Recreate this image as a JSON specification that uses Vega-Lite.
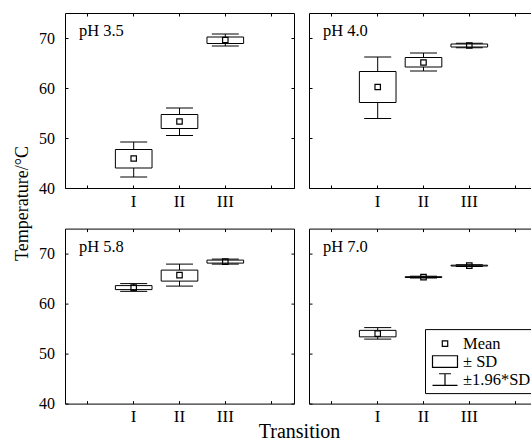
{
  "$schema": "https://vega.github.io/schema/vega-lite/v6.json",
  "padding": {"left": 12, "top": 12, "right": 0, "bottom": 0},
  "background": "white",
  "data": {"values": [
    {"panel": "pH 3.5", "transition": "I", "mean": 45.9, "sdlo": 44.0, "sdhi": 47.7, "cilo": 42.2, "cihi": 49.2},
    {"panel": "pH 3.5", "transition": "II", "mean": 53.3, "sdlo": 51.9, "sdhi": 54.7, "cilo": 50.5, "cihi": 56.0},
    {"panel": "pH 3.5", "transition": "III", "mean": 69.6, "sdlo": 68.9, "sdhi": 70.2, "cilo": 68.4, "cihi": 70.8},
    {"panel": "pH 4.0", "transition": "I", "mean": 60.2, "sdlo": 57.1, "sdhi": 63.3, "cilo": 53.9, "cihi": 66.2},
    {"panel": "pH 4.0", "transition": "II", "mean": 65.1, "sdlo": 64.2, "sdhi": 66.1, "cilo": 63.4, "cihi": 67.0},
    {"panel": "pH 4.0", "transition": "III", "mean": 68.5, "sdlo": 68.2, "sdhi": 68.8, "cilo": 68.05, "cihi": 68.95},
    {"panel": "pH 5.8", "transition": "I", "mean": 63.2, "sdlo": 62.8, "sdhi": 63.6, "cilo": 62.45, "cihi": 64.0},
    {"panel": "pH 5.8", "transition": "II", "mean": 65.7, "sdlo": 64.5, "sdhi": 66.7, "cilo": 63.5, "cihi": 67.9},
    {"panel": "pH 5.8", "transition": "III", "mean": 68.4, "sdlo": 68.1, "sdhi": 68.7, "cilo": 67.9, "cihi": 68.9},
    {"panel": "pH 7.0", "transition": "I", "mean": 54.0, "sdlo": 53.35, "sdhi": 54.65, "cilo": 52.9, "cihi": 55.2},
    {"panel": "pH 7.0", "transition": "II", "mean": 65.3, "sdlo": 65.22, "sdhi": 65.38, "cilo": 65.12, "cihi": 65.48},
    {"panel": "pH 7.0", "transition": "III", "mean": 67.6, "sdlo": 67.52, "sdhi": 67.68, "cilo": 67.42, "cihi": 67.78}
  ]},
  "columns": 2,
  "spacing": {"row": 40.6, "column": 15},
  "bounds": "flush",
  "resolve": {"scale": {"shape": "independent"}, "legend": {"shape": "independent"}},
  "concat": [
    {
      "width": 229, "height": 175,
      "transform": [{"filter": "datum.panel == 'pH 3.5'"}],
      "layer": [
        {"mark": {"type": "rule", "color": "black", "strokeWidth": 1},
         "encoding": {
           "x": {"field": "transition", "type": "nominal", "scale": {"type": "band", "domain": ["a", "I", "II", "III", "b"], "paddingInner": 0, "paddingOuter": 0},
                 "axis": {"orient": "bottom", "labelExpr": "datum.value == 'a' || datum.value == 'b' ? '' : datum.value", "labelFontSize": 17, "labelPadding": 8, "labelAngle": 0, "title": null}},
           "y": {"field": "cilo", "type": "quantitative", "scale": {"domain": [40, 75], "nice": false, "zero": false},
                 "axis": {"orient": "left", "values": [40, 50, 60, 70], "labelFontSize": 16, "labelPadding": 13.5, "title": "Temperature/°C", "titleFontSize": 18, "titleX": -38, "titleY": 190, "titleAngle": -90, "titleAlign": "center", "titleBaseline": "alphabetic"}},
           "y2": {"field": "cihi"}}},
        {"mark": {"type": "bar", "fill": "white", "stroke": "black", "strokeWidth": 1, "width": {"band": 0.8}},
         "encoding": {
           "x": {"field": "transition", "type": "nominal", "axis": {"orient": "top", "labels": false, "title": null}},
           "y": {"field": "sdlo", "type": "quantitative", "axis": {"orient": "right", "values": [40, 50, 60, 70], "labels": false, "title": null}},
           "y2": {"field": "sdhi"}}},
        {"mark": {"type": "tick", "color": "black", "thickness": 1, "size": 27, "orient": "horizontal", "opacity": 1},
         "encoding": {"x": {"field": "transition", "type": "nominal", "axis": null}, "y": {"field": "cilo", "type": "quantitative", "axis": null}}},
        {"mark": {"type": "tick", "color": "black", "thickness": 1, "size": 27, "orient": "horizontal", "opacity": 1},
         "encoding": {"x": {"field": "transition", "type": "nominal", "axis": null}, "y": {"field": "cihi", "type": "quantitative", "axis": null}}},
        {"mark": {"type": "point", "shape": "M-0.32,-0.32H0.32V0.32H-0.32Z", "size": 289, "filled": false, "color": "black", "strokeWidth": 1.2, "opacity": 1},
         "encoding": {"x": {"field": "transition", "type": "nominal", "axis": null}, "y": {"field": "mean", "type": "quantitative", "axis": null}}},
        {"transform": [{"filter": "datum.transition == 'I'"}],
         "mark": {"type": "text", "align": "left", "baseline": "alphabetic", "dx": -9, "font": "Liberation Serif", "fontSize": 16.5, "color": "black"},
         "encoding": {"x": {"datum": "a", "type": "nominal", "axis": null}, "y": {"datum": 70.4, "type": "quantitative", "axis": null}, "text": {"field": "panel"}}}
      ],
      "resolve": {"axis": {"x": "independent", "y": "independent"}}
    },
    {
      "width": 229, "height": 175,
      "transform": [{"filter": "datum.panel == 'pH 4.0'"}],
      "layer": [
        {"mark": {"type": "rule", "color": "black", "strokeWidth": 1},
         "encoding": {
           "x": {"field": "transition", "type": "nominal", "scale": {"type": "band", "domain": ["a", "I", "II", "III", "b"], "paddingInner": 0, "paddingOuter": 0},
                 "axis": {"orient": "bottom", "labelExpr": "datum.value == 'a' || datum.value == 'b' ? '' : datum.value", "labelFontSize": 17, "labelPadding": 8, "labelAngle": 0, "title": null}},
           "y": {"field": "cilo", "type": "quantitative", "scale": {"domain": [40, 75], "nice": false, "zero": false},
                 "axis": {"orient": "left", "values": [40, 50, 60, 70], "labels": false, "title": null}},
           "y2": {"field": "cihi"}}},
        {"mark": {"type": "bar", "fill": "white", "stroke": "black", "strokeWidth": 1, "width": {"band": 0.8}},
         "encoding": {
           "x": {"field": "transition", "type": "nominal", "axis": {"orient": "top", "labels": false, "title": null}},
           "y": {"field": "sdlo", "type": "quantitative", "axis": {"orient": "right", "values": [40, 50, 60, 70], "labels": false, "title": null}},
           "y2": {"field": "sdhi"}}},
        {"mark": {"type": "tick", "color": "black", "thickness": 1, "size": 27, "orient": "horizontal", "opacity": 1},
         "encoding": {"x": {"field": "transition", "type": "nominal", "axis": null}, "y": {"field": "cilo", "type": "quantitative", "axis": null}}},
        {"mark": {"type": "tick", "color": "black", "thickness": 1, "size": 27, "orient": "horizontal", "opacity": 1},
         "encoding": {"x": {"field": "transition", "type": "nominal", "axis": null}, "y": {"field": "cihi", "type": "quantitative", "axis": null}}},
        {"mark": {"type": "point", "shape": "M-0.32,-0.32H0.32V0.32H-0.32Z", "size": 289, "filled": false, "color": "black", "strokeWidth": 1.2, "opacity": 1},
         "encoding": {"x": {"field": "transition", "type": "nominal", "axis": null}, "y": {"field": "mean", "type": "quantitative", "axis": null}}},
        {"transform": [{"filter": "datum.transition == 'I'"}],
         "mark": {"type": "text", "align": "left", "baseline": "alphabetic", "dx": -9, "font": "Liberation Serif", "fontSize": 16.5, "color": "black"},
         "encoding": {"x": {"datum": "a", "type": "nominal", "axis": null}, "y": {"datum": 70.4, "type": "quantitative", "axis": null}, "text": {"field": "panel"}}}
      ],
      "resolve": {"axis": {"x": "independent", "y": "independent"}}
    },
    {
      "width": 229, "height": 175,
      "transform": [{"filter": "datum.panel == 'pH 5.8'"}],
      "layer": [
        {"mark": {"type": "rule", "color": "black", "strokeWidth": 1},
         "encoding": {
           "x": {"field": "transition", "type": "nominal", "scale": {"type": "band", "domain": ["a", "I", "II", "III", "b"], "paddingInner": 0, "paddingOuter": 0},
                 "axis": {"orient": "bottom", "labelExpr": "datum.value == 'a' || datum.value == 'b' ? '' : datum.value", "labelFontSize": 17, "labelPadding": 8, "labelAngle": 0, "title": "Transition", "titleFontSize": 20, "titleX": 234, "titleY": 34, "titleAlign": "center", "titleBaseline": "alphabetic"}},
           "y": {"field": "cilo", "type": "quantitative", "scale": {"domain": [40, 75], "nice": false, "zero": false},
                 "axis": {"orient": "left", "values": [40, 50, 60, 70], "labelFontSize": 16, "labelPadding": 13.5, "title": null}},
           "y2": {"field": "cihi"}}},
        {"mark": {"type": "bar", "fill": "white", "stroke": "black", "strokeWidth": 1, "width": {"band": 0.8}},
         "encoding": {
           "x": {"field": "transition", "type": "nominal", "axis": {"orient": "top", "labels": false, "title": null}},
           "y": {"field": "sdlo", "type": "quantitative", "axis": {"orient": "right", "values": [40, 50, 60, 70], "labels": false, "title": null}},
           "y2": {"field": "sdhi"}}},
        {"mark": {"type": "tick", "color": "black", "thickness": 1, "size": 27, "orient": "horizontal", "opacity": 1},
         "encoding": {"x": {"field": "transition", "type": "nominal", "axis": null}, "y": {"field": "cilo", "type": "quantitative", "axis": null}}},
        {"mark": {"type": "tick", "color": "black", "thickness": 1, "size": 27, "orient": "horizontal", "opacity": 1},
         "encoding": {"x": {"field": "transition", "type": "nominal", "axis": null}, "y": {"field": "cihi", "type": "quantitative", "axis": null}}},
        {"mark": {"type": "point", "shape": "M-0.32,-0.32H0.32V0.32H-0.32Z", "size": 289, "filled": false, "color": "black", "strokeWidth": 1.2, "opacity": 1},
         "encoding": {"x": {"field": "transition", "type": "nominal", "axis": null}, "y": {"field": "mean", "type": "quantitative", "axis": null}}},
        {"transform": [{"filter": "datum.transition == 'I'"}],
         "mark": {"type": "text", "align": "left", "baseline": "alphabetic", "dx": -9, "font": "Liberation Serif", "fontSize": 16.5, "color": "black"},
         "encoding": {"x": {"datum": "a", "type": "nominal", "axis": null}, "y": {"datum": 70.4, "type": "quantitative", "axis": null}, "text": {"field": "panel"}}}
      ],
      "resolve": {"axis": {"x": "independent", "y": "independent"}}
    },
    {
      "width": 229, "height": 175,
      "transform": [{"filter": "datum.panel == 'pH 7.0'"}],
      "layer": [
        {"mark": {"type": "rule", "color": "black", "strokeWidth": 1},
         "encoding": {
           "x": {"field": "transition", "type": "nominal", "scale": {"type": "band", "domain": ["a", "I", "II", "III", "b"], "paddingInner": 0, "paddingOuter": 0},
                 "axis": {"orient": "bottom", "labelExpr": "datum.value == 'a' || datum.value == 'b' ? '' : datum.value", "labelFontSize": 17, "labelPadding": 8, "labelAngle": 0, "title": null}},
           "y": {"field": "cilo", "type": "quantitative", "scale": {"domain": [40, 75], "nice": false, "zero": false},
                 "axis": {"orient": "left", "values": [40, 50, 60, 70], "labels": false, "title": null}},
           "y2": {"field": "cihi"}}},
        {"mark": {"type": "bar", "fill": "white", "stroke": "black", "strokeWidth": 1, "width": {"band": 0.8}},
         "encoding": {
           "x": {"field": "transition", "type": "nominal", "axis": {"orient": "top", "labels": false, "title": null}},
           "y": {"field": "sdlo", "type": "quantitative", "axis": {"orient": "right", "values": [40, 50, 60, 70], "labels": false, "title": null}},
           "y2": {"field": "sdhi"}}},
        {"mark": {"type": "tick", "color": "black", "thickness": 1, "size": 27, "orient": "horizontal", "opacity": 1},
         "encoding": {"x": {"field": "transition", "type": "nominal", "axis": null}, "y": {"field": "cilo", "type": "quantitative", "axis": null}}},
        {"mark": {"type": "tick", "color": "black", "thickness": 1, "size": 27, "orient": "horizontal", "opacity": 1},
         "encoding": {"x": {"field": "transition", "type": "nominal", "axis": null}, "y": {"field": "cihi", "type": "quantitative", "axis": null}}},
        {"mark": {"type": "point", "size": 289, "filled": false, "color": "black", "strokeWidth": 1.2, "opacity": 1},
         "encoding": {"x": {"field": "transition", "type": "nominal", "axis": null}, "y": {"field": "mean", "type": "quantitative", "axis": null},
           "shape": {"datum": "Mean", "type": "nominal",
             "scale": {"domain": ["Mean", "± SD", "±1.96*SD"], "range": ["M-0.32,-0.32H0.32V0.32H-0.32Z", "M-1.47,-0.69H1.47V0.69H-1.47Z", "M-0.7,-0.69H0.7M0,-0.69V0.69M-1.47,0.69H1.47"]},
             "legend": {"title": null, "orient": "none", "legendX": 116, "legendY": 100.5, "strokeColor": "black", "fillColor": "white", "padding": 5, "cornerRadius": 0,
               "symbolSize": 289, "symbolStrokeColor": "black", "symbolFillColor": "white", "symbolStrokeWidth": 1.2, "symbolOpacity": 1, "symbolOffset": 5.5,
               "labelFont": "Liberation Serif", "labelFontSize": 16.5, "labelColor": "black", "labelOffset": 8.5, "rowPadding": 0}}}},
        {"transform": [{"filter": "datum.transition == 'I'"}],
         "mark": {"type": "text", "align": "left", "baseline": "alphabetic", "dx": -9, "font": "Liberation Serif", "fontSize": 16.5, "color": "black"},
         "encoding": {"x": {"datum": "a", "type": "nominal", "axis": null}, "y": {"datum": 70.4, "type": "quantitative", "axis": null}, "text": {"field": "panel"}}}
      ],
      "resolve": {"axis": {"x": "independent", "y": "independent"}}
    }
  ],
  "config": {
    "font": "Liberation Serif",
    "view": {"stroke": "black", "strokeWidth": 1},
    "axis": {"domain": false, "grid": false, "tickSize": -3, "tickColor": "black", "tickWidth": 1, "labelColor": "black", "labelFont": "Liberation Serif", "titleFont": "Liberation Serif", "titleFontWeight": "normal", "titleColor": "black"}
  }
}
